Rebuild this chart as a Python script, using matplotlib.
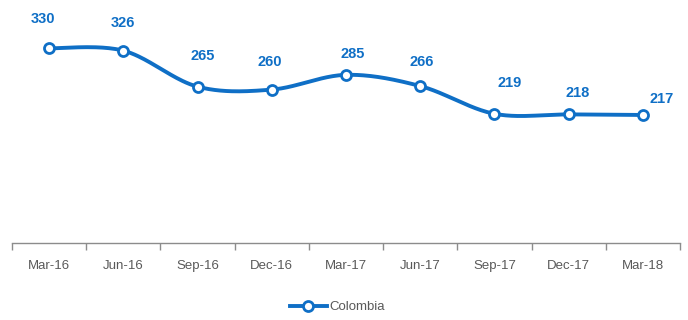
import numpy as np
import matplotlib
matplotlib.use("Agg")
import matplotlib.pyplot as plt
from matplotlib.lines import Line2D

categories = ["Mar-16", "Jun-16", "Sep-16", "Dec-16", "Mar-17",
              "Jun-17", "Sep-17", "Dec-17", "Mar-18"]
colombia = [330, 326, 265, 260, 285, 266, 219, 218, 217]

# hand-placed data label offsets, in pixels (dx, dy above the point)
label_offsets = [(-6, 29), (0, 28), (5, 31), (-2, 28), (7, 21),
                 (1, 24), (15, 31), (9, 21), (19, 16)]

BLUE = "#0F6FC6"
GREY = "#595959"
narrow = ["Liberation Sans Narrow", "Liberation Sans", "DejaVu Sans"]


def smooth_curve(x, y, steps=40):
    """Cubic Bezier smoothing through every point (Catmull-Rom tangents)."""
    x = np.asarray(x, float)
    y = np.asarray(y, float)
    n = len(x)
    xs, ys = [], []
    for i in range(n - 1):
        p0 = np.array([x[max(i - 1, 0)], y[max(i - 1, 0)]])
        p1 = np.array([x[i], y[i]])
        p2 = np.array([x[i + 1], y[i + 1]])
        p3 = np.array([x[min(i + 2, n - 1)], y[min(i + 2, n - 1)]])
        c1 = p1 + (p2 - p0) / 6.0
        c2 = p2 - (p3 - p1) / 6.0
        t = np.linspace(0, 1, steps)[:, None]
        pts = ((1 - t) ** 3) * p1 + 3 * ((1 - t) ** 2) * t * c1 \
            + 3 * (1 - t) * t ** 2 * c2 + t ** 3 * p2
        xs.extend(pts[:, 0])
        ys.extend(pts[:, 1])
    return np.array(xs), np.array(ys)


fig = plt.figure(figsize=(6.88, 3.2), dpi=100)
ax = fig.add_axes([12 / 688, 77 / 320, 668 / 688, 236 / 320])

x = np.arange(len(categories))
sx, sy = smooth_curve(x, colombia)
ax.plot(sx, sy, color=BLUE, lw=2.8, solid_capstyle="round", zorder=2)
ax.plot(x, colombia, ls="none", marker="o", ms=7.2, mfc="white",
        mec=BLUE, mew=2.0, zorder=3)

px = 72 / fig.dpi
for xi, v, (dx, dy) in zip(x, colombia, label_offsets):
    ax.annotate(str(v), (xi, v), xytext=(dx * px, dy * px),
                textcoords="offset points", ha="center", va="center",
                color=BLUE, fontsize=10.5, fontweight="bold", family=narrow)

ax.set_xlim(-0.5, len(categories) - 0.5)
ax.set_ylim(0, 400)
for s in ["top", "right", "left"]:
    ax.spines[s].set_visible(False)
ax.spines["bottom"].set_color("#8C8C8C")
ax.spines["bottom"].set_linewidth(1.0)
ax.set_yticks([])

ax.set_xticks(x)
ax.set_xticklabels(categories, family=narrow, fontsize=9.5, color=GREY)
ax.tick_params(axis="x", which="major", length=0, pad=12)
ax.set_xticks(np.arange(-0.5, len(categories)), minor=True)
ax.tick_params(axis="x", which="minor", length=5, color="#8C8C8C", width=1)

handle = Line2D([], [], color=BLUE, lw=2.8, marker="o", ms=7.2,
                mfc="white", mec=BLUE, mew=2.0)
fig.legend([handle], ["Colombia"], loc="center", bbox_to_anchor=(0.49, 13 / 320),
           frameon=False, prop={"family": narrow, "size": 9.5},
           labelcolor=GREY, handlelength=2.8, handletextpad=0.2)

fig.savefig("out.png", dpi=100)
